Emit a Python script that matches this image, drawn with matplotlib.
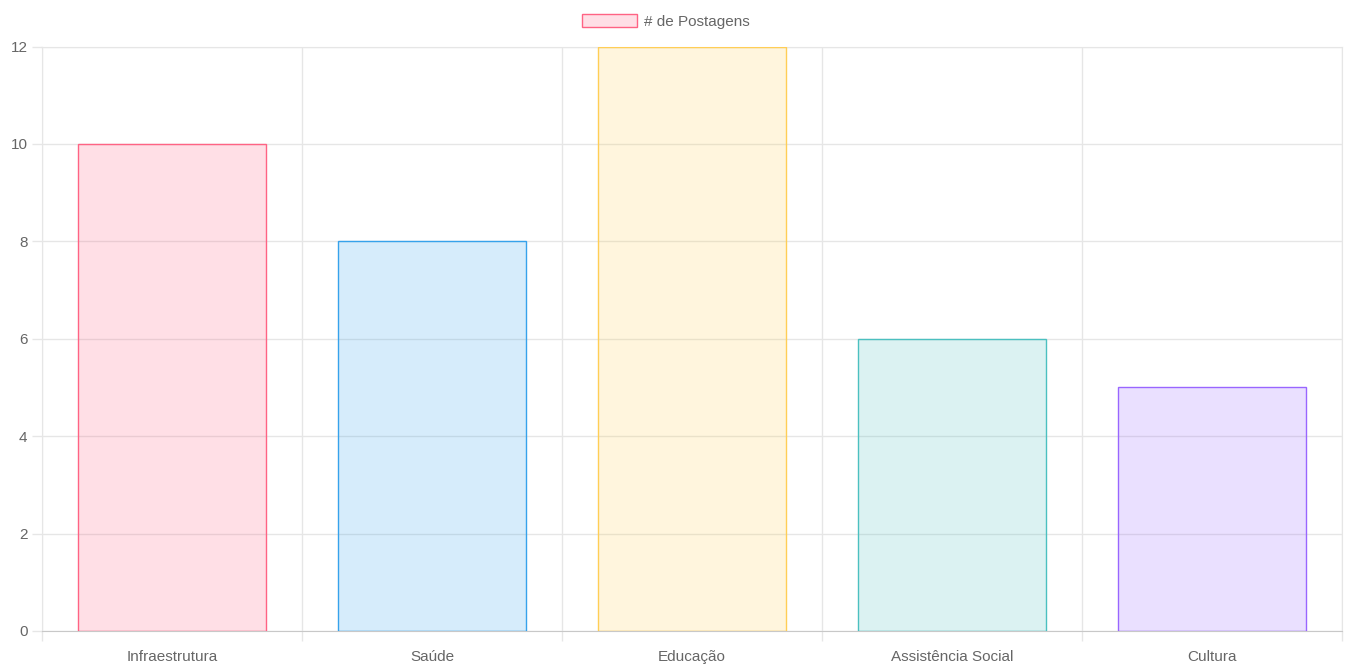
import matplotlib.pyplot as plt
import numpy as np

plt.rcParams['font.family'] = ['Liberation Sans', 'DejaVu Sans']

categories = ['Infraestrutura', 'Saúde', 'Educação', 'Assistência Social', 'Cultura']
postagens = [10, 8, 12, 6, 5]
fill_colors = [(1.0, 0.388, 0.518, 0.2), (0.212, 0.635, 0.922, 0.2), (1.0, 0.808, 0.337, 0.2),
               (0.294, 0.753, 0.753, 0.2), (0.6, 0.4, 1.0, 0.2)]
edge_colors = ['#ff6384', '#36a2eb', '#ffce56', '#4bc0c0', '#9966ff']
y_ticks = [0, 2, 4, 6, 8, 10, 12]
series_label = '# de Postagens'

grid_c = '#e6e6e6'
text_c = '#666666'

fig = plt.figure(figsize=(13.48, 6.64), dpi=100)
ax = fig.add_axes([42 / 1348, 33 / 664, 1300 / 1348, 584.5 / 664])

x = np.arange(len(categories))
bars = ax.bar(x, postagens, width=0.72, color=fill_colors, edgecolor=edge_colors,
              linewidth=1.0, zorder=3)

ax.set_xlim(-0.5, len(categories) - 0.5)
ax.set_ylim(0, 12)
ax.set_yticks(y_ticks)
ax.set_xticks(x)
ax.set_xticklabels(categories)
ax.set_xticks(np.arange(len(categories) + 1) - 0.5, minor=True)

ax.grid(axis='y', color=grid_c, linewidth=1, zorder=0)
ax.grid(axis='x', which='minor', color=grid_c, linewidth=1, zorder=0)
ax.tick_params(axis='x', which='major', length=0, pad=14, labelsize=11, labelcolor=text_c)
ax.tick_params(axis='x', which='minor', length=7.5, color=grid_c, width=1)
ax.tick_params(axis='y', length=7.5, color=grid_c, width=1, pad=3, labelsize=11, labelcolor=text_c)

for s in ['top', 'right', 'left']:
    ax.spines[s].set_color(grid_c)
ax.spines['bottom'].set_color('#c8c8c8')

leg = ax.legend([bars[0]], [series_label], loc='lower center', bbox_to_anchor=(0.48, 1.0),
                frameon=False, fontsize=11, handlelength=3.6, handleheight=0.95,
                handletextpad=0.5, borderaxespad=0.75, labelcolor=text_c)

fig.savefig('out.png', dpi=100)
